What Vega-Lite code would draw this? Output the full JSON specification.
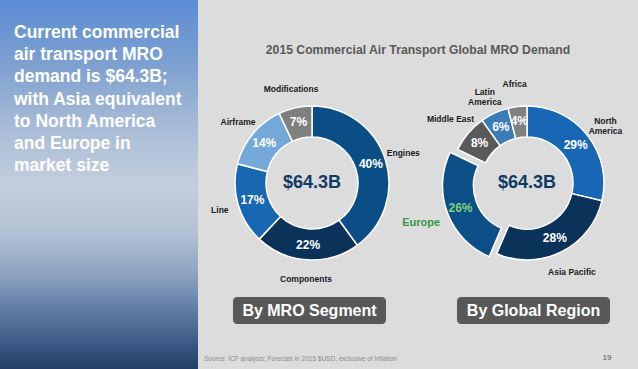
{
  "$schema": "https://vega.github.io/schema/vega-lite/v6.json",
  "padding": 0,
  "spacing": 0,
  "background": "#dcdcdc",
  "config": {
    "view": {"stroke": null},
    "font": "Liberation Sans",
    "text": {"font": "Liberation Sans"},
    "title": {"font": "Liberation Sans"}
  },
  "datasets": {
    "shares": [
      {"chart": "By MRO Segment", "label": "Engines", "share": 0.40, "rank": 1},
      {"chart": "By MRO Segment", "label": "Components", "share": 0.22, "rank": 2},
      {"chart": "By MRO Segment", "label": "Line", "share": 0.17, "rank": 3},
      {"chart": "By MRO Segment", "label": "Airframe", "share": 0.14, "rank": 4},
      {"chart": "By MRO Segment", "label": "Modifications", "share": 0.07, "rank": 5},
      {"chart": "By Global Region", "label": "North America", "share": 0.29, "rank": 1},
      {"chart": "By Global Region", "label": "Asia Pacific", "share": 0.28, "rank": 2},
      {"chart": "By Global Region", "label": "Europe", "share": 0.26, "rank": 3},
      {"chart": "By Global Region", "label": "Middle East", "share": 0.08, "rank": 4},
      {"chart": "By Global Region", "label": "Latin America", "share": 0.06, "rank": 5},
      {"chart": "By Global Region", "label": "Africa", "share": 0.04, "rank": 6}
    ],
    "charts": [
      {"chart": "By MRO Segment", "total": "$64.3B"},
      {"chart": "By Global Region", "total": "$64.3B"}
    ],
    "notes": [
      {
        "headline": "Current commercial\nair transport MRO\ndemand is $64.3B;\nwith Asia equivalent\nto North America\nand Europe in\nmarket size",
        "source": "Source: ICF analysis; Forecast in 2015 $USD, exclusive of inflation",
        "page": "19"
      }
    ]
  },
  "hconcat": [
    {
      "width": 198,
      "height": 369,
      "data": {"name": "notes"},
      "layer": [
        {
          "mark": {
            "type": "rect",
            "fill": {
              "gradient": "linear",
              "x1": 0, "y1": 0, "x2": 0, "y2": 1,
              "stops": [
                {"offset": 0, "color": "#5b8cd4"},
                {"offset": 0.18, "color": "#7fa1d0"},
                {"offset": 0.35, "color": "#a9bcd7"},
                {"offset": 0.5, "color": "#c3cedd"},
                {"offset": 0.62, "color": "#b6c3d6"},
                {"offset": 0.74, "color": "#8fa4c1"},
                {"offset": 0.84, "color": "#5f7ca6"},
                {"offset": 0.93, "color": "#3c5884"},
                {"offset": 1, "color": "#243d68"}
              ]
            }
          },
          "encoding": {
            "x": {"value": 0}, "x2": {"value": 198},
            "y": {"value": 0}, "y2": {"value": 369}
          }
        },
        {
          "mark": {
            "type": "text", "align": "left", "baseline": "top",
            "lineBreak": "\n", "lineHeight": 22.2,
            "fontSize": 17.5, "fontWeight": "bold", "fill": "#ffffff"
          },
          "encoding": {
            "text": {"field": "headline"},
            "x": {"value": 14},
            "y": {"value": 24}
          }
        }
      ]
    },
    {
      "width": 440,
      "height": 366,
      "title": {
        "text": "2015 Commercial Air Transport Global MRO Demand",
        "fontSize": 12.2, "fontWeight": "bold", "color": "#595959",
        "anchor": "middle", "frame": "group", "baseline": "top", "offset": -56
      },
      "data": {"name": "shares"},
      "resolve": {"scale": {"x": "independent"}},
      "layer": [
        {
          "transform": [{"filter": "datum.chart === 'By MRO Segment'"}],
          "mark": {"type": "arc", "innerRadius": 46, "outerRadius": 77, "stroke": "#ffffff", "strokeWidth": 1.5},
          "encoding": {
            "x": {"field": "chart", "type": "nominal", "axis": null, "scale": {"type": "point", "domain": ["By MRO Segment", "By Global Region"], "range": [114, 329], "padding": 0}},
            "theta": {"field": "share", "type": "quantitative", "stack": "normalize"},
            "order": {"field": "rank"},
            "color": {
              "field": "label", "type": "nominal", "legend": null,
              "scale": {
                "domain": ["Engines", "Components", "Line", "Airframe", "Modifications", "North America", "Asia Pacific", "Europe", "Middle East", "Latin America", "Africa"],
                "range": ["#0b4e86", "#0b3259", "#1867b3", "#74a8d8", "#7f7f7f", "#1767b4", "#0b3259", "#0d4f87", "#5a5a5a", "#3b7cb8", "#808080"]
              }
            }
          }
        },
        {
          "transform": [{"filter": "datum.chart === 'By MRO Segment'"}],
          "mark": {"type": "text", "radius": 62, "fontSize": 12, "fontWeight": "bold", "fill": "#ffffff"},
          "encoding": {
            "x": {"field": "chart", "type": "nominal", "axis": null, "scale": {"type": "point", "domain": ["By MRO Segment", "By Global Region"], "range": [114, 329], "padding": 0}},
            "theta": {"field": "share", "type": "quantitative", "stack": "normalize"},
            "order": {"field": "rank"},
            "text": {"field": "share", "type": "quantitative", "format": ".0%"}
          }
        },
        {
          "transform": [{"filter": "datum.chart === 'By MRO Segment'"}],
          "mark": {"type": "text", "radius": 96, "fontSize": 8.5, "fontWeight": "bold", "fill": "#1a1a1a"},
          "encoding": {
            "x": {"field": "chart", "type": "nominal", "axis": null, "scale": {"type": "point", "domain": ["By MRO Segment", "By Global Region"], "range": [114, 329], "padding": 0}},
            "theta": {"field": "share", "type": "quantitative", "stack": "normalize"},
            "order": {"field": "rank"},
            "text": {"field": "label"}
          }
        },
        {
          "transform": [{"filter": "datum.chart === 'By Global Region'"}],
          "mark": {"type": "arc", "innerRadius": 46, "outerRadius": 77, "stroke": "#ffffff", "strokeWidth": 1.5},
          "encoding": {
            "x": {"field": "chart", "type": "nominal", "axis": null, "scale": {"type": "point", "domain": ["By MRO Segment", "By Global Region"], "range": [114, 329], "padding": 0}},
            "theta": {"field": "share", "type": "quantitative", "stack": "normalize"},
            "order": {"field": "rank"},
            "color": {"field": "label", "type": "nominal", "legend": null},
            "opacity": {"condition": {"test": "datum.label === 'Europe'", "value": 0}, "value": 1}
          }
        },
        {
          "transform": [{"filter": "datum.chart === 'By Global Region'"}],
          "mark": {"type": "arc", "innerRadius": 46, "outerRadius": 77, "stroke": "#ffffff", "strokeWidth": 1.5, "xOffset": -7.5, "yOffset": 2.8},
          "encoding": {
            "x": {"field": "chart", "type": "nominal", "axis": null, "scale": {"type": "point", "domain": ["By MRO Segment", "By Global Region"], "range": [114, 329], "padding": 0}},
            "theta": {"field": "share", "type": "quantitative", "stack": "normalize"},
            "order": {"field": "rank"},
            "color": {"field": "label", "type": "nominal", "legend": null},
            "opacity": {"condition": {"test": "datum.label === 'Europe'", "value": 1}, "value": 0}
          }
        },
        {
          "transform": [{"filter": "datum.chart === 'By Global Region'"}],
          "mark": {"type": "text", "radius": 62, "fontSize": 12, "fontWeight": "bold", "fill": "#ffffff"},
          "encoding": {
            "x": {"field": "chart", "type": "nominal", "axis": null, "scale": {"type": "point", "domain": ["By MRO Segment", "By Global Region"], "range": [114, 329], "padding": 0}},
            "theta": {"field": "share", "type": "quantitative", "stack": "normalize"},
            "order": {"field": "rank"},
            "text": {"field": "share", "type": "quantitative", "format": ".0%"},
            "opacity": {"condition": {"test": "datum.label === 'Europe'", "value": 0}, "value": 1}
          }
        },
        {
          "transform": [{"filter": "datum.chart === 'By Global Region'"}],
          "mark": {"type": "text", "radius": 63, "fontSize": 12, "fontWeight": "bold", "fill": "#7fd27f", "xOffset": -7.5, "yOffset": 2.8},
          "encoding": {
            "x": {"field": "chart", "type": "nominal", "axis": null, "scale": {"type": "point", "domain": ["By MRO Segment", "By Global Region"], "range": [114, 329], "padding": 0}},
            "theta": {"field": "share", "type": "quantitative", "stack": "normalize"},
            "order": {"field": "rank"},
            "text": {"field": "share", "type": "quantitative", "format": ".0%"},
            "opacity": {"condition": {"test": "datum.label === 'Europe'", "value": 1}, "value": 0}
          }
        },
        {
          "transform": [
            {"filter": "datum.chart === 'By Global Region'"},
            {"calculate": "replace(datum.label, ' America', '\\nAmerica')", "as": "display"}
          ],
          "mark": {"type": "text", "radius": 100, "fontSize": 8.5, "fontWeight": "bold", "fill": "#1a1a1a", "lineBreak": "\n", "lineHeight": 10},
          "encoding": {
            "x": {"field": "chart", "type": "nominal", "axis": null, "scale": {"type": "point", "domain": ["By MRO Segment", "By Global Region"], "range": [114, 329], "padding": 0}},
            "theta": {"field": "share", "type": "quantitative", "stack": "normalize"},
            "order": {"field": "rank"},
            "text": {"field": "display"},
            "opacity": {"condition": {"test": "datum.label === 'Europe'", "value": 0}, "value": 1}
          }
        },
        {
          "transform": [{"filter": "datum.chart === 'By Global Region'"}],
          "mark": {"type": "text", "radius": 105, "fontSize": 11, "fontWeight": "bold", "fill": "#2f9a45", "xOffset": -7.5, "yOffset": 2.8},
          "encoding": {
            "x": {"field": "chart", "type": "nominal", "axis": null, "scale": {"type": "point", "domain": ["By MRO Segment", "By Global Region"], "range": [114, 329], "padding": 0}},
            "theta": {"field": "share", "type": "quantitative", "stack": "normalize"},
            "order": {"field": "rank"},
            "text": {"field": "label"},
            "opacity": {"condition": {"test": "datum.label === 'Europe'", "value": 1}, "value": 0}
          }
        },
        {
          "data": {"name": "charts"},
          "mark": {"type": "text", "fontSize": 18, "fontWeight": "bold", "fill": "#0f3a63", "baseline": "middle"},
          "encoding": {
            "x": {"field": "chart", "type": "nominal", "axis": null, "scale": {"type": "point", "domain": ["By MRO Segment", "By Global Region"], "range": [114, 329], "padding": 0}},
            "text": {"field": "total"}
          }
        },
        {
          "data": {"name": "charts"},
          "mark": {"type": "rect", "width": 153, "cornerRadius": 4, "fill": "#585858"},
          "encoding": {
            "x": {"field": "chart", "type": "nominal", "axis": null, "scale": {"type": "point", "domain": ["By MRO Segment", "By Global Region"], "range": [111.5, 335.5], "padding": 0}},
            "y": {"value": 297},
            "y2": {"value": 324}
          }
        },
        {
          "data": {"name": "charts"},
          "mark": {"type": "text", "fontSize": 16, "fontWeight": "bold", "fill": "#ffffff", "baseline": "middle"},
          "encoding": {
            "x": {"field": "chart", "type": "nominal", "axis": null, "scale": {"type": "point", "domain": ["By MRO Segment", "By Global Region"], "range": [111.5, 335.5], "padding": 0}},
            "y": {"value": 311},
            "text": {"field": "chart"}
          }
        },
        {
          "data": {"name": "notes"},
          "mark": {"type": "text", "fontSize": 6.5, "fill": "#8a8a8a", "align": "left", "baseline": "middle"},
          "encoding": {
            "x": {"value": 6},
            "y": {"value": 359},
            "text": {"field": "source"}
          }
        },
        {
          "data": {"name": "notes"},
          "mark": {"type": "text", "fontSize": 8, "fill": "#555555", "align": "center", "baseline": "middle"},
          "encoding": {
            "x": {"value": 409},
            "y": {"value": 358},
            "text": {"field": "page"}
          }
        }
      ]
    }
  ]
}
